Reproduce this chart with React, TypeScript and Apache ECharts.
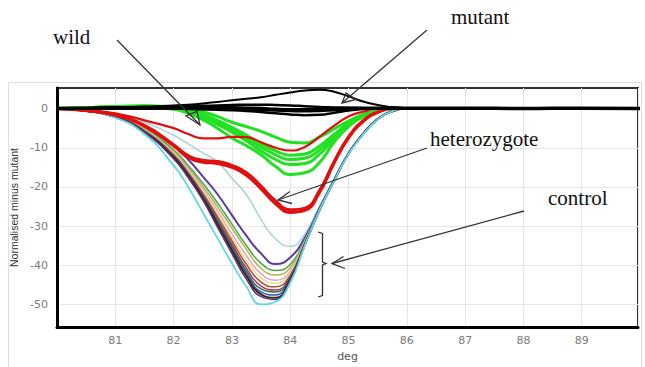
import React, { useEffect, useRef } from "react";
import * as echarts from "echarts";

// Melt temperatures (deg) shared by every difference curve
const temps = [80, 80.5, 81, 81.5, 82, 82.25, 82.5, 82.75, 83, 83.25, 83.5, 83.75, 84, 84.25, 84.5, 84.75, 85, 85.25, 85.5, 85.75, 86, 87, 88, 89, 90];

const xTickStart = 80;
const yTicks = [0, -10, -20, -30, -40, -50];

// Control samples
const ctrlLightBlue = [0, -0.3, -1.3, -3.5, -6.8, -9, -11.3, -13.6, -17.8, -22, -28.3, -33.3, -35.2, -32, -25, -18, -11.3, -6.4, -2.7, -0.7, 0, 0, 0, 0, 0];
const ctrlPurple = [0, -0.4, -1.6, -4.5, -9.5, -13, -17.3, -21.8, -27.2, -32.5, -37, -39.7, -38, -33, -25.5, -18.3, -11.4, -6.4, -2.7, -0.7, 0, 0, 0, 0, 0];
const ctrlGreen = [0, -0.5, -1.8, -5, -10.5, -14.5, -19, -24, -29.5, -35, -39.5, -41.3, -39.8, -33.5, -25.8, -18.4, -11.5, -6.5, -2.7, -0.7, 0, 0, 0, 0, 0];
const ctrlOlive = [0, -0.5, -1.9, -5.2, -11, -15, -19.8, -25, -30.5, -36, -40.8, -42.5, -40.6, -33.8, -25.9, -18.4, -11.5, -6.5, -2.7, -0.7, 0, 0, 0, 0, 0];
const ctrlPink = [0, -0.5, -1.9, -5.4, -11.3, -15.5, -20.5, -26, -32, -37.5, -42.2, -43.8, -41.5, -34, -26, -18.5, -11.5, -6.5, -2.7, -0.7, 0, 0, 0, 0, 0];
const ctrlYellow = [0, -0.5, -2, -5.5, -11.5, -16, -21, -26.8, -33, -38.7, -43.2, -44.6, -42, -34.2, -26, -18.5, -11.5, -6.5, -2.7, -0.7, 0, 0, 0, 0, 0];
const ctrlBrown = [0, -0.5, -2, -5.6, -11.8, -16.3, -21.6, -27.5, -33.8, -39.8, -44.3, -45.5, -42.6, -34.4, -26, -18.5, -11.5, -6.5, -2.7, -0.7, 0, 0, 0, 0, 0];
const ctrlMagenta = [0, -0.6, -2.1, -5.8, -12, -16.6, -22, -28.2, -34.6, -40.8, -45.3, -46.3, -43, -34.5, -26, -18.5, -11.5, -6.5, -2.7, -0.7, 0, 0, 0, 0, 0];
const ctrlDarkGreen = [0, -0.6, -2.1, -5.8, -12.2, -16.8, -22.3, -28.6, -35.2, -41.5, -46, -46.8, -43.2, -34.6, -26, -18.5, -11.5, -6.5, -2.7, -0.7, 0, 0, 0, 0, 0];
const ctrlBlue = [0, -0.6, -2.1, -5.9, -12.3, -17, -22.6, -29.1, -35.8, -42.2, -46.8, -47.6, -43.4, -34.7, -26, -18.5, -11.5, -6.5, -2.7, -0.7, 0, 0, 0, 0, 0];
const ctrlBlack = [0, -0.6, -2.2, -6, -12.5, -17.2, -22.8, -29.5, -36.2, -42.8, -47.4, -48.3, -43.6, -34.8, -26, -18.5, -11.5, -6.5, -2.7, -0.7, 0, 0, 0, 0, 0];
const ctrlPlum = [0, -0.6, -2.2, -6.1, -12.8, -17.6, -23.3, -30.2, -37, -43.6, -48, -48.7, -43.8, -34.9, -26, -18.5, -11.5, -6.5, -2.7, -0.7, 0, 0, 0, 0, 0];
const ctrlCyan = [0, -0.6, -2.3, -6.5, -14.5, -20, -26.5, -33, -39.5, -45.5, -50, -49.3, -44.5, -35, -26, -18.6, -11.6, -6.6, -2.8, -0.7, 0, 0, 0, 0, 0];

// Wild-type samples
const wild1 = [0, 0.2, 0.5, 0.7, 0.4, 0, -0.8, -2, -3.5, -4.6, -5.8, -7.3, -8.6, -8.8, -7.3, -5.2, -3.2, -1.5, -0.5, 0, 0, 0, 0, 0, 0];
const wild2 = [0, 0.2, 0.5, 0.6, 0.2, -0.4, -1.5, -3, -4.8, -6.8, -9, -10.8, -11.9, -11.6, -9.6, -6.6, -3.8, -1.8, -0.6, 0, 0, 0, 0, 0, 0];
const wild3 = [0, 0.2, 0.5, 0.6, 0.1, -0.6, -1.8, -3.4, -5.3, -7.5, -9.8, -11.8, -13, -12.7, -10.6, -7.2, -4, -1.9, -0.6, 0, 0, 0, 0, 0, 0];
const wild4 = [0, 0.2, 0.4, 0.5, 0, -0.8, -2.2, -4, -6, -8.3, -10.8, -13, -14.3, -14, -11.7, -7.8, -4.3, -2, -0.7, 0, 0, 0, 0, 0, 0];
const wild5 = [0, 0.2, 0.4, 0.4, -0.2, -1.2, -2.8, -5, -7.5, -9.5, -11.8, -14.8, -16.8, -16.4, -13.8, -8.6, -4.6, -2, -0.7, 0, 0, 0, 0, 0, 0];

// Heterozygote samples
const hetShoulder = [0, -0.4, -1.2, -3, -5, -6.5, -7.6, -7.6, -7.2, -7.3, -8.6, -10, -10.7, -9.8, -7.2, -4.4, -2, -0.8, 0, 0, 0, 0, 0, 0, 0];
const hetDeepA = [0, -0.5, -1.7, -4.5, -9.5, -12.5, -13.7, -14, -15, -17, -20.5, -24.3, -26.5, -26, -21.5, -14, -7.5, -3.3, -1, 0, 0, 0, 0, 0, 0];
const hetDeepB = [0, -0.5, -1.6, -4.3, -9.2, -12, -13.2, -13.5, -14.5, -16.4, -19.8, -23.6, -25.8, -25.4, -21, -13.6, -7.2, -3.1, -0.9, 0, 0, 0, 0, 0, 0];

// Mutant samples
const mutBase = [0, 0.1, 0.2, 0.2, 0.3, 0.3, 0.3, 0.2, 0.2, 0.1, 0, -0.2, -0.3, -0.3, -0.2, -0.1, 0, 0.1, 0.1, 0.2, 0.1, 0.1, 0, 0.1, 0];
const mutBump = [0, 0.1, 0.3, 0.5, 0.8, 1, 1.3, 1.7, 2.1, 2.5, 2.9, 3.5, 4.1, 4.6, 4.8, 4.3, 3.1, 1.8, 0.9, 0.3, 0, 0, 0, 0, 0];
const mutRise = [0, 0.1, 0.2, 0.3, 0.5, 0.6, 0.7, 0.8, 0.9, 1, 1, 0.9, 0.8, 0.6, 0.4, 0.3, 0.2, 0.1, 0, 0, 0, 0, 0, 0, 0];
const mutDip1 = [0, 0, 0, 0, 0, -0.1, -0.2, -0.3, -0.4, -0.6, -0.9, -1.2, -1.5, -1.7, -1.6, -1.1, -0.5, -0.1, 0, 0, 0, 0, 0, 0, 0];
const mutDip2 = [0, 0, 0, 0, 0, 0, -0.1, -0.1, -0.2, -0.3, -0.4, -0.5, -0.6, -0.7, -0.6, -0.4, -0.2, 0, 0, 0, 0, 0, 0, 0, 0];

function curve(name: string, values: number[], color: string, width: number) {
  return {
    type: "line",
    name,
    data: temps.map((t, i) => [t, values[i]]),
    smooth: 0.5,
    symbol: "none",
    showSymbol: false,
    silent: true,
    lineStyle: { color, width },
  };
}

const serif = "21px 'Liberation Serif', 'Times New Roman', serif";
const ink = "#333";

function label(text: string, x: number, y: number) {
  return {
    type: "text",
    x,
    y,
    silent: true,
    z: 100,
    style: { text, font: serif, fill: "#111", textAlign: "left", textVerticalAlign: "middle", verticalAlign: "middle" },
  };
}

function seg(points: number[][], closed = false) {
  return {
    type: closed ? "polygon" : "polyline",
    silent: true,
    z: 100,
    shape: { points },
    style: { stroke: ink, lineWidth: 1.3, fill: closed ? "none" : undefined },
  };
}

export default function App() {
  const ref = useRef<HTMLDivElement>(null);

  useEffect(() => {
    const chart = echarts.init(ref.current!, null, { renderer: "svg" });
    chart.setOption({
      animation: false,
      backgroundColor: "#fff",
      grid: {
        left: 57,
        right: 7,
        top: 88,
        bottom: 35,
        show: true,
        borderColor: "#333",
        borderWidth: 2,
        backgroundColor: "transparent",
      },
      xAxis: {
        type: "value",
        min: xTickStart,
        max: 89.965,
        interval: 1,
        name: "deg",
        nameLocation: "middle",
        nameGap: 24,
        nameTextStyle: { fontFamily: "DejaVu Sans", fontSize: 11, color: "#555" },
        axisLine: { show: true, onZero: false, lineStyle: { color: "#000", width: 3 } },
        axisTick: { show: false },
        axisLabel: { showMinLabel: false, showMaxLabel: false, margin: 8, fontFamily: "DejaVu Sans", fontSize: 11, color: "#7a7a7a" },
        splitLine: { show: true, lineStyle: { color: "#e6e6e6", width: 1 } },
      },
      yAxis: {
        type: "value",
        min: -55.75,
        max: 5.25,
        name: "Normalised minus mutant",
        nameLocation: "middle",
        nameGap: 36,
        nameTextStyle: { fontFamily: "Liberation Sans", fontSize: 10.5, color: "#333" },
        axisLine: { show: true, onZero: false, lineStyle: { color: "#000", width: 3 } },
        axisTick: { show: false, customValues: yTicks },
        axisLabel: { customValues: yTicks, margin: 9, fontFamily: "DejaVu Sans", fontSize: 11, color: "#7a7a7a" },
        splitLine: { show: true, lineStyle: { color: "#e6e6e6", width: 1 } },
      },
      series: [
        curve("control", ctrlLightBlue, "#a9d3d6", 1.5),
        curve("control", ctrlPurple, "#5b3c9e", 2),
        curve("control", ctrlGreen, "#4ea24e", 1.5),
        curve("control", ctrlOlive, "#a8b84a", 1.5),
        curve("control", ctrlPink, "#e6a1c7", 1.5),
        curve("control", ctrlYellow, "#e3dd8e", 1.5),
        curve("control", ctrlBrown, "#a0522d", 1.5),
        curve("control", ctrlMagenta, "#b5306a", 1.5),
        curve("control", ctrlDarkGreen, "#2f6f3a", 1.5),
        curve("control", ctrlBlue, "#3b4fb0", 1.5),
        curve("control", ctrlBlack, "#2a2a2a", 2),
        curve("control", ctrlPlum, "#6a2c6a", 1.5),
        curve("control", ctrlCyan, "#5fd8e3", 1.8),
        curve("wild", wild1, "#22e022", 3),
        curve("wild", wild2, "#22e022", 3),
        curve("wild", wild3, "#22e022", 3),
        curve("wild", wild4, "#22e022", 3),
        curve("wild", wild5, "#22e022", 3),
        curve("heterozygote", hetShoulder, "#e01010", 2.2),
        curve("heterozygote", hetDeepA, "#e01010", 3),
        curve("heterozygote", hetDeepB, "#e01010", 3),
        curve("mutant", mutDip2, "#000", 2.5),
        curve("mutant", mutDip1, "#000", 2.5),
        curve("mutant", mutRise, "#000", 2.5),
        curve("mutant", mutBump, "#000", 2),
        curve("mutant", mutBase, "#000", 3.5),
      ],
      graphic: [
        {
          type: "rect",
          silent: true,
          z: 0,
          shape: { x: 8.5, y: 82.5, width: 633, height: 300 },
          style: { stroke: "#dedede", lineWidth: 1, fill: "none" },
        },
        label("wild", 53, 37),
        label("mutant", 451, 17),
        label("heterozygote", 430, 139),
        label("control", 548, 198),
        // wild pointer
        seg([[117, 40], [200, 125]]),
        seg([[200, 125], [186, 116], [197, 111.5]], true),
        // mutant pointer
        seg([[427, 30], [342, 103]]),
        seg([[342, 103], [346, 93], [356, 99.5]], true),
        // heterozygote pointer
        seg([[427, 148], [278, 200]]),
        seg([[290, 191.5], [278, 200], [292, 203.5]]),
        // control pointer
        seg([[524, 211], [332, 263.5]]),
        seg([[343.5, 256.5], [332, 263.5], [345, 268.5]]),
        // control bracket
        seg([[318, 232], [322.5, 233.5], [322.5, 262], [326, 263.5], [322.5, 265], [322.5, 295.5], [318, 297]]),
      ],
    });
    return () => chart.dispose();
  }, []);

  return (
    <div
      ref={ref}
      style={{ position: "fixed", left: 0, top: 0, width: 645, height: 367, background: "#fff" }}
    />
  );
}
